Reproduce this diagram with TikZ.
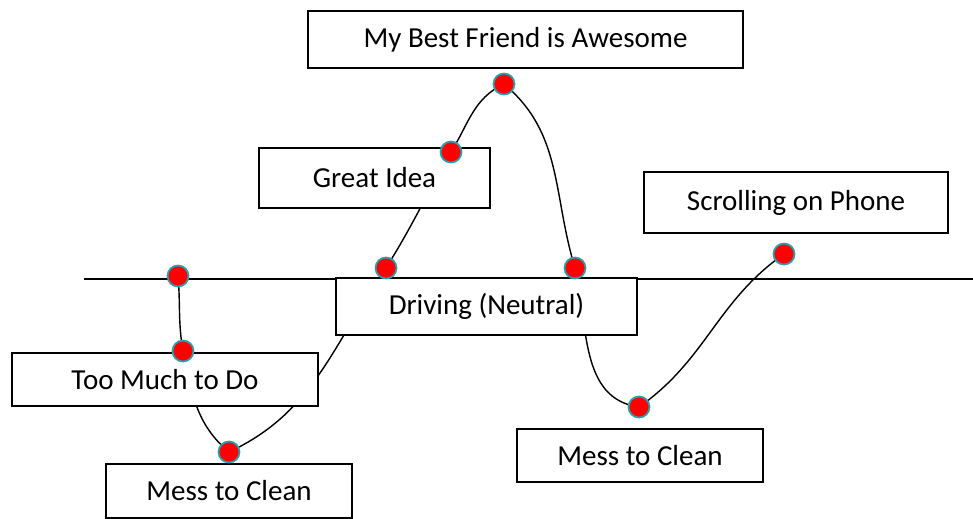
\documentclass[tikz,border=0pt]{standalone}
\usepackage{fontspec}
\setmainfont{Carlito}
\usetikzlibrary{positioning}
\colorlet{dotfill}{red}
\definecolor{dotrim}{RGB}{40,160,172}
\tikzset{
  moodbox/.style ={draw=black, fill=white, line width=1.1pt, inner sep=0pt,
                   font=\fontsize{16.5}{19}\selectfont},
  moodpt/.style  ={circle, draw=dotrim, fill=dotfill, line width=1pt,
                   minimum size=0.42cm, inner sep=0pt},
  swing/.style   ={black, line width=0.8pt},
  midline/.style ={black, line width=0.8pt},
}

\begin{document}
\begin{tikzpicture}[x=0.02cm, y=0.02cm]
\clip (0,0) rectangle (973,-518);

% points on the mood curve (pixel positions, y downwards)
\foreach \n/\x/\y in {p1/178/276, p2/183/351, p3/229/452, p4/386/268,
                      p5/451/152, p6/504/84, p7/575/268, p8/639/407,
                      p9/784/254}
  \coordinate (\n) at (\x,-\y);

% neutral line
\coordinate (lineL) at (84,-279);
\coordinate (lineR) at (973,-279);
\draw[midline] (lineL) -- (lineR);

% the curve, behind the boxes
\draw[swing] (p1) to[out=-85, in=100] (p2) to[out=-78, in=140] (p3)
  to[out=25, in=235] (p4) to[out=58, in=240] (p5) to[out=58, in=205] (p6)
  to[out=-40, in=107] (p7) to[out=-77, in=172] (p8) to[out=35, in=215] (p9);

% boxes
\node[moodbox, minimum width=8.7cm, minimum height=1.14cm] (friend)
  at (525.5,-39.5) {My Best Friend is Awesome};
\node[moodbox, minimum width=4.62cm, minimum height=1.2cm] (idea)
  at (374.5,-178) {Great Idea};
\node[moodbox, minimum width=6.08cm, minimum height=1.22cm] (phone)
  at (796,-202.5) {Scrolling on Phone};
\node[moodbox, minimum width=6.02cm, minimum height=1.14cm] (drive)
  at (486.5,-306.5) {Driving (Neutral)};
\node[moodbox, minimum width=6.12cm, minimum height=1.06cm] (busy)
  at (165,-379.5) {Too Much to Do};
\node[moodbox, minimum width=4.92cm, minimum height=1.08cm] (messA)
  at (229,-491) {Mess to Clean};
\node[moodbox, minimum width=4.92cm, minimum height=1.06cm] (messB)
  at (640,-455.5) {Mess to Clean};

% dots on top
\foreach \n in {p1,p2,p3,p4,p5,p6,p7,p8,p9}
  \node[moodpt] (\n dot) at (\n) {};

\end{tikzpicture}
\end{document}
